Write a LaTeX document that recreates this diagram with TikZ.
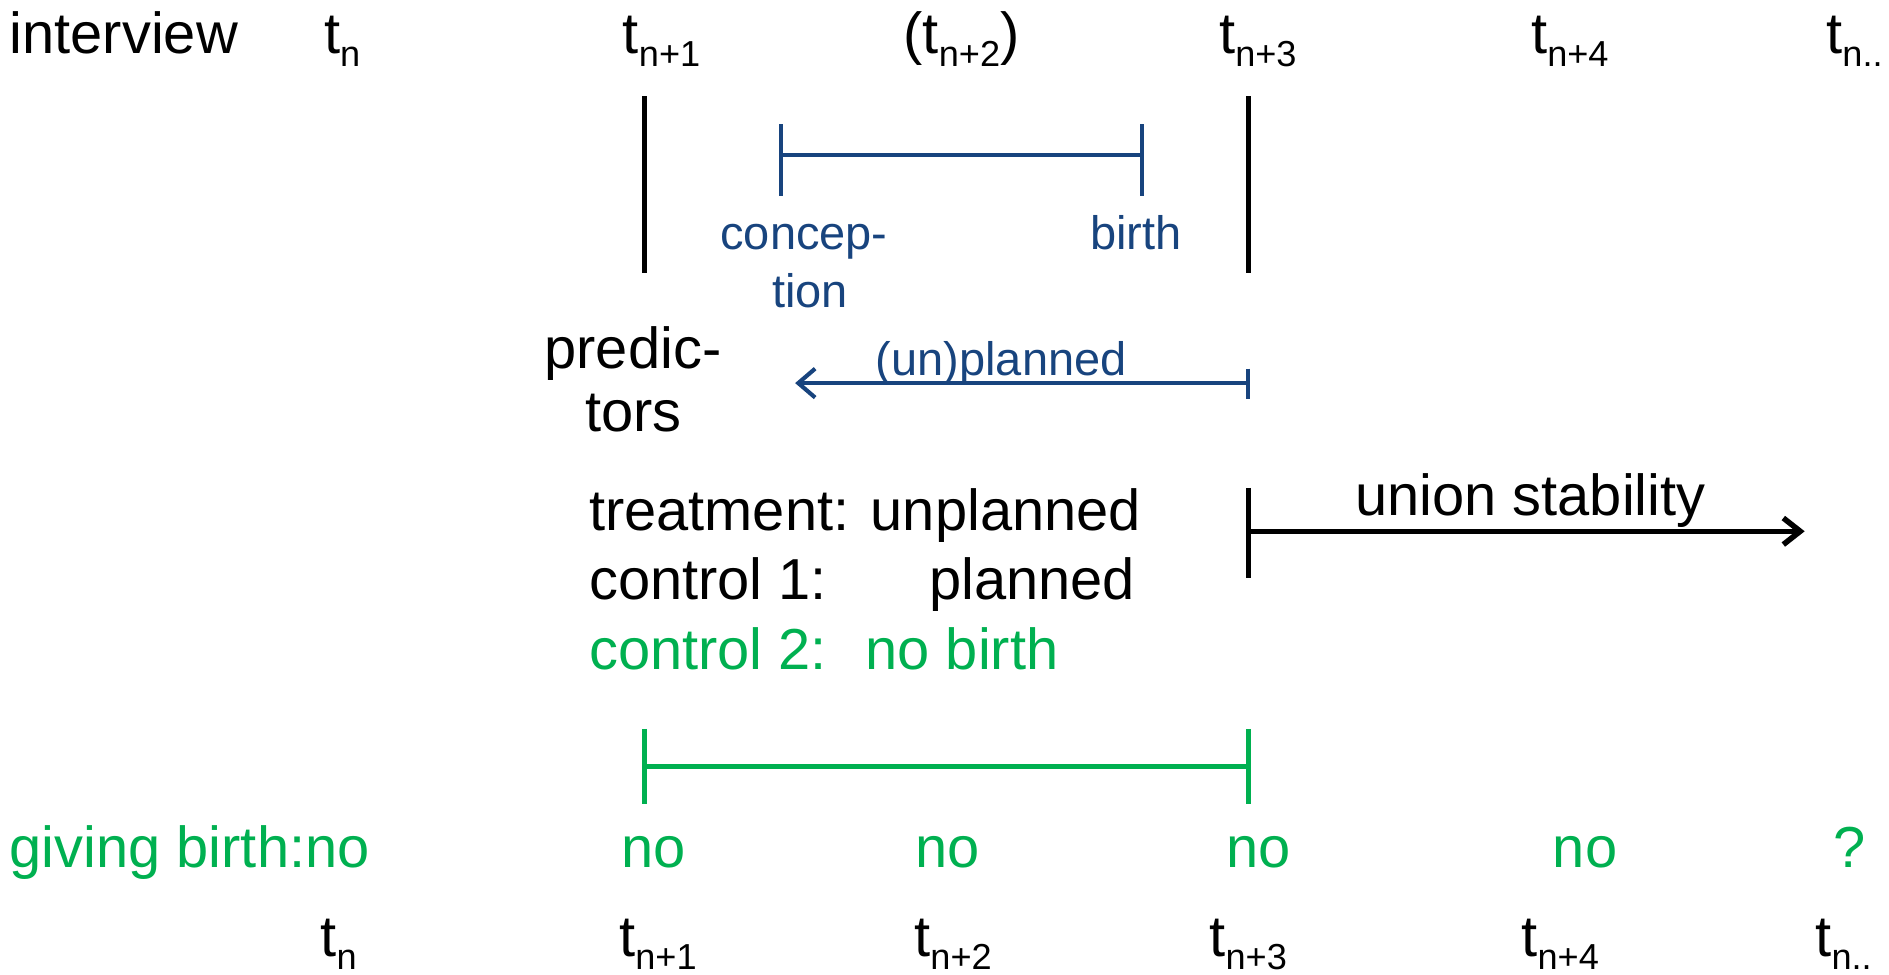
\documentclass[tikz,border=0pt]{standalone}
\usepackage{fontspec}
\setmainfont{Liberation Sans}
\usetikzlibrary{arrows.meta}
\definecolor{pblue}{RGB}{24,68,126}
\definecolor{pgreen}{RGB}{0,176,80}
\newcommand\tsub[1]{t\raisebox{-5.5pt}{\fontsize{15}{15}\selectfont #1}}
\begin{document}
\begin{tikzpicture}[x=0.5pt,y=-0.5pt,
  lbl/.style={anchor=base west,inner sep=0pt,outer sep=0pt,font=\fontsize{24}{28}\selectfont},
  glbl/.style={lbl,text=pgreen},
  blbl/.style={anchor=base west,inner sep=0pt,outer sep=0pt,text=pblue,font=\fontsize{19.5}{24}\selectfont},
  kline/.style={line width=2pt,black},
  bline/.style={line width=1.7pt,pblue},
  gline/.style={line width=2pt,pgreen},
  barrow/.style={bline,-{Straight Barb[length=7pt,width=12pt,line width=1.7pt]}},
  karrow/.style={line width=2.3pt,black,-{Straight Barb[length=7pt,width=11pt,line width=2.3pt]}}
]
\useasboundingbox (0,0) rectangle (1568,808.5);
% top row
\node[lbl] (iv) at (8,44) {interview};
\node[lbl] (t0) at (269,44) {\tsub{n}};
\node[lbl] (t1) at (517,44) {\tsub{n+1}};
\node[lbl] (t2) at (750,44) {(\tsub{n+2})};
\node[lbl] (t3) at (1012,44) {\tsub{n+3}};
\node[lbl] (t4) at (1271,44) {\tsub{n+4}};
\node[lbl] (t5) at (1516,44) {\tsub{n..}};
% vertical bars
\coordinate (v1a) at (535,80); \coordinate (v1b) at (535,227);
\coordinate (v3a) at (1036,80); \coordinate (v3b) at (1036,227);
\draw[kline] (v1a) -- (v1b);
\draw[kline] (v3a) -- (v3b);
% blue interval
\coordinate (ca) at (648,103); \coordinate (cb) at (648,163); \coordinate (cm) at (648,129);
\coordinate (ba) at (948,103); \coordinate (bb) at (948,163); \coordinate (bm) at (948,129);
\draw[bline] (ca) -- (cb);
\draw[bline] (ba) -- (bb);
\draw[bline] (cm) -- (bm);
\node[blbl] (conc) at (598,207) {concep-};
\node[blbl] (tion) at (641,255) {tion};
\node[blbl] (birth) at (905,207) {birth};
% predictors
\node[lbl] (pred) at (452,306) {predic-};
\node[lbl] (tors) at (486,358) {tors};
% (un)planned arrow
\node[blbl] (unpl) at (727,312) {(un)planned};
\coordinate (ua) at (1036,318); \coordinate (ub) at (660,318);
\coordinate (uta) at (1036,306); \coordinate (utb) at (1036,331);
\draw[bline] (uta) -- (utb);
\draw[barrow] (ua) -- (ub);
% groups
\node[lbl] (treat) at (489,440) {treatment: unplanned};
\node[lbl] (ctl1) at (489,498) {control 1:\hspace{42.5pt}planned};
\node[glbl] (ctl2) at (489,556) {control 2:\hspace{16pt}no birth};
% union stability
\coordinate (sa) at (1036,405); \coordinate (sb) at (1036,480);
\coordinate (sm) at (1036,441); \coordinate (se) at (1498,441);
\draw[kline] (sa) -- (sb);
\draw[karrow] (sm) -- (se);
\node[lbl] (us) at (1125,428) {union stability};
% green interval
\coordinate (ga) at (535,605); \coordinate (gb) at (535,667); \coordinate (gm) at (535,636);
\coordinate (ha) at (1036,605); \coordinate (hb) at (1036,667); \coordinate (hm) at (1036,636);
\draw[gline] (ga) -- (gb);
\draw[gline] (ha) -- (hb);
\draw[gline] (gm) -- (hm);
% giving birth row
\node[glbl] (gb0) at (8,720) {giving birth:no};
\node[glbl] (gb1) at (516,720) {no};
\node[glbl] (gb2) at (760,720) {no};
\node[glbl] (gb3) at (1018,720) {no};
\node[glbl] (gb4) at (1289,720) {no};
\node[glbl] (gb5) at (1522,720) {?};
% bottom row
\node[lbl] (b0) at (266,794) {\tsub{n}};
\node[lbl] (b1) at (514,794) {\tsub{n+1}};
\node[lbl] (b2) at (759,794) {\tsub{n+2}};
\node[lbl] (b3) at (1004,794) {\tsub{n+3}};
\node[lbl] (b4) at (1263,794) {\tsub{n+4}};
\node[lbl] (b5) at (1507,794) {\tsub{n..}};
\end{tikzpicture}
\end{document}
